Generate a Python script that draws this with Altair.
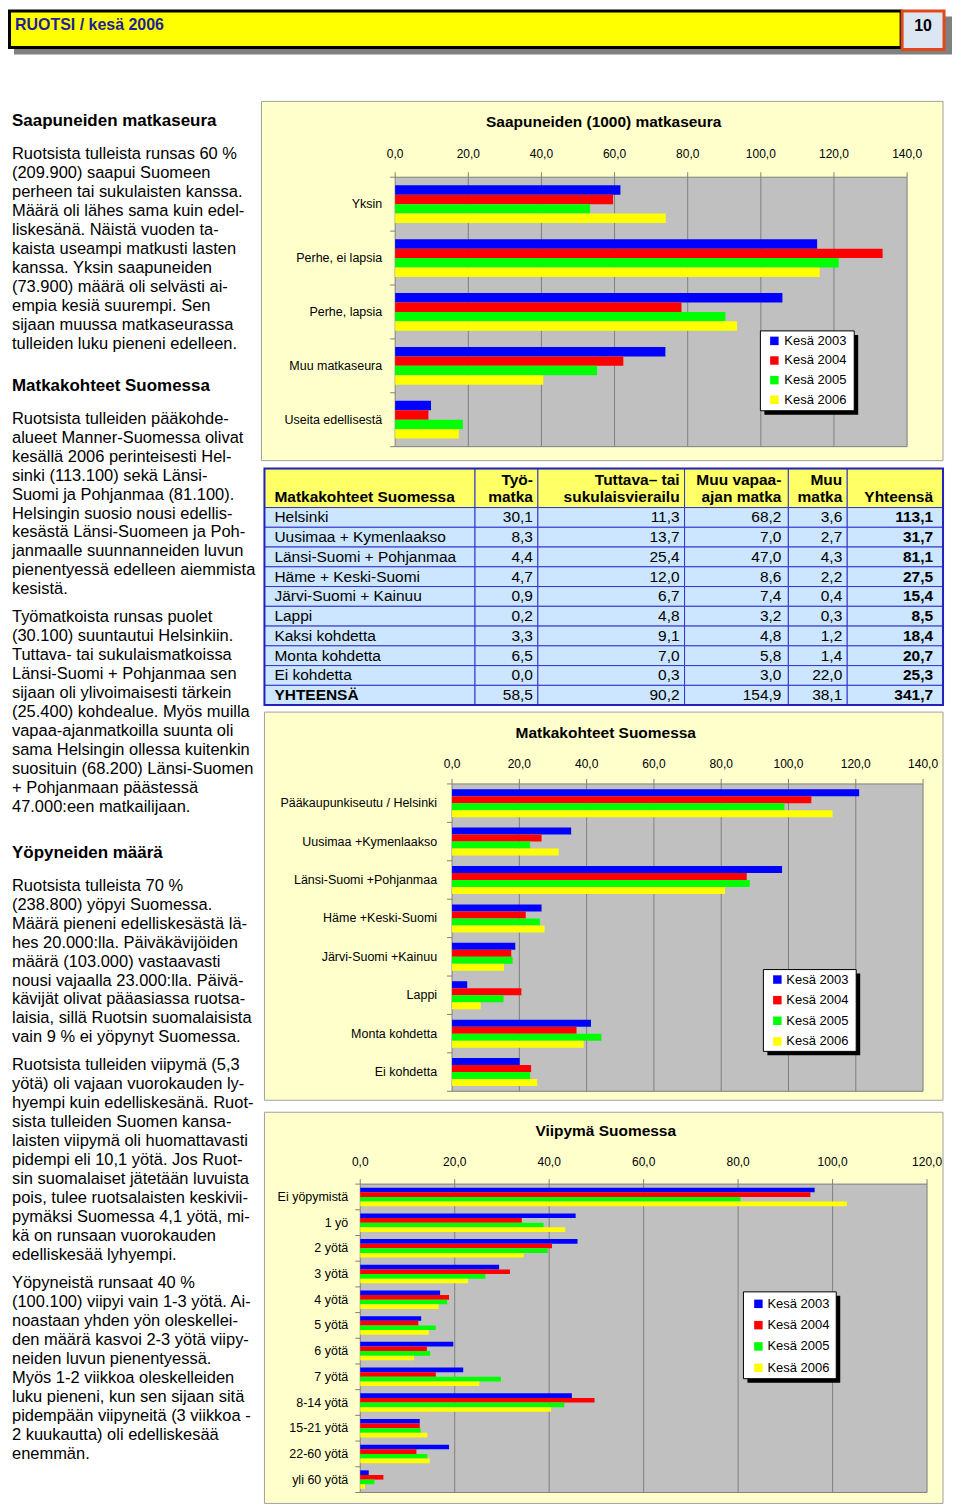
import altair as alt
import pandas as pd

FONT = "Liberation Sans"

# ---------------- data ----------------
years = ["Kesä 2003", "Kesä 2004", "Kesä 2005", "Kesä 2006"]
colors = ["#0000FF", "#FF0000", "#00FF00", "#FFFF00"]

c1_cats = ["Yksin", "Perhe, ei lapsia", "Perhe, lapsia", "Muu matkaseura", "Useita edellisestä"]
c1_2003 = [61.6, 115.4, 105.9, 73.9, 9.8]
c1_2004 = [59.6, 133.3, 78.3, 62.4, 9.1]
c1_2005 = [53.3, 121.3, 90.3, 55.2, 18.5]
c1_2006 = [74.0, 116.1, 93.5, 40.5, 17.4]

c2_cats = ["Pääkaupunkiseutu / Helsinki", "Uusimaa +Kymenlaakso", "Länsi-Suomi +Pohjanmaa",
           "Häme +Keski-Suomi", "Järvi-Suomi +Kainuu", "Lappi", "Monta kohdetta", "Ei kohdetta"]
c2_2003 = [121.0, 35.4, 98.1, 26.6, 18.8, 4.5, 41.3, 20.1]
c2_2004 = [106.8, 26.6, 87.6, 21.9, 17.6, 20.6, 37.0, 23.5]
c2_2005 = [98.8, 23.2, 88.5, 26.1, 18.0, 15.3, 44.4, 23.2]
c2_2006 = [113.1, 31.7, 81.1, 27.5, 15.4, 8.5, 39.1, 25.3]

c3_cats = ["Ei yöpymistä", "1 yö", "2 yötä", "3 yötä", "4 yötä", "5 yötä", "6 yötä", "7 yötä",
           "8-14 yötä", "15-21 yötä", "22-60 yötä", "yli 60 yötä"]
c3_2003 = [96.2, 45.6, 46.0, 29.4, 16.9, 12.9, 19.7, 21.8, 44.8, 12.6, 18.8, 1.8]
c3_2004 = [95.3, 34.2, 40.6, 31.7, 18.8, 12.3, 14.1, 16.0, 49.6, 12.6, 11.9, 4.9]
c3_2005 = [80.5, 38.8, 39.7, 26.5, 18.4, 16.0, 14.8, 29.8, 43.2, 12.8, 14.2, 3.0]
c3_2006 = [103.0, 43.4, 34.6, 22.8, 16.6, 14.5, 11.4, 25.2, 40.4, 14.2, 14.7, 1.0]

tbl_rows = ["Helsinki", "Uusimaa + Kymenlaakso", "Länsi-Suomi + Pohjanmaa", "Häme + Keski-Suomi",
            "Järvi-Suomi + Kainuu", "Lappi", "Kaksi kohdetta", "Monta kohdetta", "Ei kohdetta", "YHTEENSÄ"]
tbl_tyo = [30.1, 8.3, 4.4, 4.7, 0.9, 0.2, 3.3, 6.5, 0.0, 58.5]
tbl_tuttava = [11.3, 13.7, 25.4, 12.0, 6.7, 4.8, 9.1, 7.0, 0.3, 90.2]
tbl_vapaa = [68.2, 7.0, 47.0, 8.6, 7.4, 3.2, 4.8, 5.8, 3.0, 154.9]
tbl_muu = [3.6, 2.7, 4.3, 2.2, 0.4, 0.3, 1.2, 1.4, 22.0, 38.1]
tbl_yht = [113.1, 31.7, 81.1, 27.5, 15.4, 8.5, 18.4, 20.7, 25.3, 341.7]
tbl_head = [["", "Matkakohteet Suomessa"], ["Työ-", "matka"], ["Tuttava– tai", "sukulaisvierailu"],
            ["Muu vapaa-", "ajan matka"], ["Muu", "matka"], ["", "Yhteensä"]]

h1 = "Saapuneiden matkaseura"
p1 = ["Ruotsista tulleista runsas 60 %", "(209.900) saapui Suomeen", "perheen tai sukulaisten kanssa.",
      "Määrä oli lähes sama kuin edel-", "liskesänä. Näistä vuoden ta-", "kaista useampi matkusti lasten",
      "kanssa. Yksin saapuneiden", "(73.900) määrä oli selvästi ai-", "empia kesiä suurempi. Sen",
      "sijaan muussa matkaseurassa", "tulleiden luku pieneni edelleen."]
h2 = "Matkakohteet Suomessa"
p2 = ["Ruotsista tulleiden pääkohde-", "alueet Manner-Suomessa olivat", "kesällä 2006 perinteisesti Hel-",
      "sinki (113.100) sekä Länsi-", "Suomi ja Pohjanmaa (81.100).", "Helsingin suosio nousi edellis-",
      "kesästä Länsi-Suomeen ja Poh-", "janmaalle suunnanneiden luvun", "pienentyessä edelleen aiemmista",
      "kesistä."]
p3 = ["Työmatkoista runsas puolet", "(30.100) suuntautui Helsinkiin.", "Tuttava- tai sukulaismatkoissa",
      "Länsi-Suomi + Pohjanmaa sen", "sijaan oli ylivoimaisesti tärkein", "(25.400) kohdealue. Myös muilla",
      "vapaa-ajanmatkoilla suunta oli", "sama Helsingin ollessa kuitenkin", "suosituin (68.200) Länsi-Suomen",
      "+ Pohjanmaan päästessä", "47.000:een matkailijaan."]
h3 = "Yöpyneiden määrä"
p4 = ["Ruotsista tulleista 70 %", "(238.800) yöpyi Suomessa.", "Määrä pieneni edelliskesästä lä-",
      "hes 20.000:lla. Päiväkävijöiden", "määrä (103.000) vastaavasti", "nousi vajaalla 23.000:lla. Päivä-",
      "kävijät olivat pääasiassa ruotsa-", "laisia, sillä Ruotsin suomalaisista", "vain 9 % ei yöpynyt Suomessa."]
p5 = ["Ruotsista tulleiden viipymä (5,3", "yötä) oli vajaan vuorokauden ly-", "hyempi kuin edelliskesänä. Ruot-",
      "sista tulleiden Suomen kansa-", "laisten viipymä oli huomattavasti", "pidempi eli 10,1 yötä. Jos Ruot-",
      "sin suomalaiset jätetään luvuista", "pois, tulee ruotsalaisten keskivii-", "pymäksi Suomessa 4,1 yötä, mi-",
      "kä on runsaan vuorokauden", "edelliskesää lyhyempi."]
p6 = ["Yöpyneistä runsaat 40 %", "(100.100) viipyi vain 1-3 yötä. Ai-", "noastaan yhden yön oleskellei-",
      "den määrä kasvoi 2-3 yötä viipy-", "neiden luvun pienentyessä.", "Myös 1-2 viikkoa oleskelleiden",
      "luku pieneni, kun sen sijaan sitä", "pidempään viipyneitä (3 viikkoa -", "2 kuukautta) oli edelliskesää",
      "enemmän."]

header_title = "RUOTSI / kesä 2006"
page_no = "10"

# ---------------- helpers ----------------
ONE = pd.DataFrame({"k": [0]})


def box(x0, x1, y0, y1, fill, stroke=None, sw=1):
    kw = dict(fill=fill, strokeWidth=sw)
    if stroke is not None:
        kw["stroke"] = stroke
    else:
        kw["strokeWidth"] = 0
    return alt.Chart(ONE).mark_rect(**kw).encode(
        x=alt.value(x0), x2=alt.value(x1), y=alt.value(y0), y2=alt.value(y1))


def label(txt, x, y, size, bold=False, align="left", color="black"):
    return alt.Chart(ONE).mark_text(text=txt, font=FONT, fontSize=size,
                                    fontWeight="bold" if bold else "normal",
                                    align=align, baseline="middle", color=color).encode(
        x=alt.value(x), y=alt.value(y))


def fmt(v):
    return f"{v:.1f}".replace(".", ",")


def bar_panel(cats, series, cfg, key):
    W, H = cfg["W"], cfg["H"]
    xmax = cfg["xmax"]
    left, right = cfg["xr"]
    top, bot = cfg["py"]
    n = len(cats)
    pin, pout = cfg["pin"], cfg["pout"]
    step = (bot - top) / (n - pin + 2 * pout)
    bw = step * (1 - pin)
    xs = alt.Scale(domain=[0, xmax], range=[left, right], nice=False, zero=True)
    ys = alt.Scale(domain=cats, range=[top, bot], paddingInner=pin, paddingOuter=pout)
    os_ = alt.Scale(domain=years, range=[0, bw], paddingInner=0, paddingOuter=0)
    cs = alt.Scale(domain=years, range=colors)
    yr_f = "yr_" + key  # distinct series field per panel

    rows = [{"cat": c, yr_f: yr, "v": v} for yr, vals in zip(years, series) for c, v in zip(cats, vals)]
    bars_df = pd.DataFrame(rows)
    ticks = list(range(0, xmax + 1, 20))
    tick_df = pd.DataFrame({"t": ticks, "lab": [fmt(t) for t in ticks]})
    grid_df = tick_df[(tick_df.t > 0) & (tick_df.t < xmax)]
    bnd_df = pd.DataFrame({"b": list(range(n + 1))})
    cat_df = pd.DataFrame({"cat": cats})
    leg_df = pd.DataFrame({"year": years, "i": list(range(len(years)))})
    fx0, fx1, fy0, fy1 = cfg["frame"]
    lx0, lx1, ly0, ly1 = cfg["legbox"]
    le0, le1 = cfg["legy"]

    layers = [
        box(fx0, fx1, fy0, fy1, "#FFFFCC", "#A0A0A0", 1),
        label(cfg["title"], cfg["title_xy"][0], cfg["title_xy"][1], 15.5, bold=True, align="center"),
        alt.Chart(pd.DataFrame({"a": [0], "b": [xmax]})).mark_rect(
            fill="#C0C0C0", stroke="#808080", strokeWidth=1).encode(
            x=alt.X("a:Q", scale=xs, axis=None), x2="b:Q", y=alt.value(top), y2=alt.value(bot)),
        alt.Chart(grid_df).mark_rule(color="#808080", strokeWidth=1).encode(
            x=alt.X("t:Q", scale=xs, axis=None), y=alt.value(top), y2=alt.value(bot)),
        alt.Chart(tick_df).mark_rule(color="#808080", strokeWidth=1).encode(
            x=alt.X("t:Q", scale=xs, axis=None), y=alt.value(top - 5), y2=alt.value(top)),
        alt.Chart(bnd_df).mark_rule(color="#808080", strokeWidth=1).encode(
            y=alt.Y("b:Q", scale=alt.Scale(domain=[0, n], range=[top, bot], nice=False, zero=False), axis=None),
            x=alt.value(left - 5), x2=alt.value(left)),
        alt.Chart(bars_df).mark_bar().encode(
            x=alt.X("v:Q", scale=xs, axis=None),
            y=alt.Y("cat:N", scale=ys, axis=None),
            yOffset=alt.YOffset(yr_f + ":N", scale=os_),
            color=alt.Color(yr_f + ":N", scale=cs, legend=None)),
        alt.Chart(tick_df).mark_text(font=FONT, fontSize=12, align="center", baseline="middle").encode(
            x=alt.X("t:Q", scale=xs, axis=None), y=alt.value(cfg["tick_y"]), text="lab:N"),
        alt.Chart(cat_df).mark_text(font=FONT, fontSize=12.5, align="right", baseline="middle").encode(
            y=alt.Y("cat:N", scale=ys, axis=None), x=alt.value(cfg["label_x"]), text="cat:N"),
        box(lx0 + 4, lx1 + 4, ly0 + 4, ly1 + 4, "#000000"),
        box(lx0, lx1, ly0, ly1, "#FFFFFF", "#000000", 1),
        alt.Chart(leg_df).mark_square(size=72, opacity=1).encode(
            y=alt.Y("i:Q", scale=alt.Scale(domain=[0, 3], range=[le0, le1], nice=False, zero=False), axis=None),
            x=alt.value(cfg["leg_sq_x"]),
            color=alt.Color("year:N", scale=cs, legend=None)),
        alt.Chart(leg_df).mark_text(font=FONT, fontSize=13, align="left", baseline="middle").encode(
            y=alt.Y("i:Q", scale=alt.Scale(domain=[0, 3], range=[le0, le1], nice=False, zero=False), axis=None),
            x=alt.value(cfg["leg_tx_x"]), text="year:N"),
    ]
    return alt.layer(*layers).resolve_scale(
        x="independent", y="independent", yOffset="independent").properties(width=W, height=H)


# ---------------- header ----------------
header = alt.layer(
    box(6, 946, 7, 45, "#808080"),
    box(1.5, 895, 1.5, 38, "#FFFF00", "#000000", 3),
    box(896, 938, 1.5, 40, "#DCE6F2", "#E04A1A", 3),
    label(header_title, 7, 15, 16, bold=True, color="#1F1F99"),
    label(page_no, 917, 16, 16, bold=True, align="center"),
).properties(width=944, height=92)

# ---------------- left text column ----------------
LH = 19
blocks = [("h", [h1], 20), ("p", p1, 53), ("h", [h2], 285), ("p", p2, 318), ("p", p3, 517),
          ("h", [h3], 753), ("p", p4, 786), ("p", p5, 966), ("p", p6, 1184)]
trows = []
for kind, lines, y0 in blocks:
    for i, ln in enumerate(lines):
        trows.append({"txt": ln, "y": y0 + i * LH, "kind": kind})
text_df = pd.DataFrame(trows)
LEFT_H = 1407
ys_id = alt.Scale(domain=[0, LEFT_H], range=[0, LEFT_H], nice=False, zero=False)
left = alt.layer(
    alt.Chart(text_df).transform_filter(alt.datum.kind == "h").mark_text(
        font=FONT, fontSize=17, fontWeight="bold", align="left", baseline="middle").encode(
        x=alt.value(4), y=alt.Y("y:Q", scale=ys_id, axis=None), text="txt:N"),
    alt.Chart(text_df).transform_filter(alt.datum.kind == "p").mark_text(
        font=FONT, fontSize=16.5, align="left", baseline="middle").encode(
        x=alt.value(4), y=alt.Y("y:Q", scale=ys_id, axis=None), text="txt:N"),
).properties(width=254, height=LEFT_H)

# ---------------- chart 1 ----------------
c1 = bar_panel(c1_cats, [c1_2003, c1_2004, c1_2005, c1_2006], dict(
    W=690, H=362, xmax=140, xr=[134, 647], py=[76, 346], pin=0.3, pout=0.15,
    frame=(0, 683, 0, 360), title="Saapuneiden (1000) matkaseura", title_xy=(343, 21),
    tick_y=53, label_x=121, legbox=(500, 594, 230, 310), legy=(240, 299), leg_sq_x=514, leg_tx_x=524), "a")

# ---------------- table ----------------
TW, TH = 690, 246
col_edges = [3, 214, 277, 424, 528, 587, 683]
head_top, head_bot, tbl_bot = 6, 45, 243
idx = alt.Scale(domain=[0, TW], range=[0, TW], nice=False, zero=False)
idy = alt.Scale(domain=[0, TH], range=[0, TH], nice=False, zero=False)
rs = alt.Scale(domain=tbl_rows, range=[head_bot, tbl_bot], paddingInner=0, paddingOuter=0)
cols = [tbl_tyo, tbl_tuttava, tbl_vapaa, tbl_muu, tbl_yht]
pads = [5, 5, 7, 5, 10]
cell_rows, num_rows = [], []
for ri, r in enumerate(tbl_rows):
    for ci in range(6):
        cell_rows.append({"row": r, "x0": col_edges[ci], "x1": col_edges[ci + 1]})
    for ci, col in enumerate(cols):
        num_rows.append({"row": r, "xr": col_edges[ci + 2] - pads[ci], "lab": fmt(col[ri]),
                         "bold": ci == 4})
cell_df = pd.DataFrame(cell_rows)
num_df = pd.DataFrame(num_rows)
head_cells = pd.DataFrame({"x0": col_edges[:-1], "x1": col_edges[1:]})
hrows = []
for ci, (l1, l2) in enumerate(tbl_head):
    for ln, yy in ((l1, 17), (l2, 34)):
        if ln:
            hrows.append({"txt": ln, "y": yy, "x": 13 if ci == 0 else col_edges[ci + 1] - pads[ci - 1],
                          "al": "l" if ci == 0 else "r"})
head_df = pd.DataFrame(hrows)
first_df = pd.DataFrame({"row": tbl_rows, "bold": [r == "YHTEENSÄ" for r in tbl_rows]})
BL = "#3333CC"
table = alt.layer(
    alt.Chart(head_cells).mark_rect(fill="#FFFF66", stroke=BL, strokeWidth=1).encode(
        x=alt.X("x0:Q", scale=idx, axis=None), x2="x1:Q", y=alt.value(head_top), y2=alt.value(head_bot)),
    alt.Chart(cell_df).mark_rect(fill="#CCE6FF", stroke=BL, strokeWidth=1).encode(
        x=alt.X("x0:Q", scale=idx, axis=None), x2="x1:Q", y=alt.Y("row:N", scale=rs, axis=None)),
    box(col_edges[0], col_edges[-1], head_top, tbl_bot, "transparent", "#2222BB", 2),
    alt.Chart(head_df).transform_filter(alt.datum.al == "l").mark_text(
        font=FONT, fontSize=15.5, fontWeight="bold", align="left", baseline="middle").encode(
        x=alt.X("x:Q", scale=idx, axis=None), y=alt.Y("y:Q", scale=idy, axis=None), text="txt:N"),
    alt.Chart(head_df).transform_filter(alt.datum.al == "r").mark_text(
        font=FONT, fontSize=15.5, fontWeight="bold", align="right", baseline="middle").encode(
        x=alt.X("x:Q", scale=idx, axis=None), y=alt.Y("y:Q", scale=idy, axis=None), text="txt:N"),
    alt.Chart(first_df).transform_filter("!datum.bold").mark_text(
        font=FONT, fontSize=15.5, align="left", baseline="middle").encode(
        x=alt.value(13), y=alt.Y("row:N", scale=rs, axis=None), text="row:N"),
    alt.Chart(first_df).transform_filter("datum.bold").mark_text(
        font=FONT, fontSize=15.5, fontWeight="bold", align="left", baseline="middle").encode(
        x=alt.value(13), y=alt.Y("row:N", scale=rs, axis=None), text="row:N"),
    alt.Chart(num_df).transform_filter("!datum.bold").mark_text(
        font=FONT, fontSize=15.5, align="right", baseline="middle").encode(
        x=alt.X("xr:Q", scale=idx, axis=None), y=alt.Y("row:N", scale=rs, axis=None), text="lab:N"),
    alt.Chart(num_df).transform_filter("datum.bold").mark_text(
        font=FONT, fontSize=15.5, fontWeight="bold", align="right", baseline="middle").encode(
        x=alt.X("xr:Q", scale=idx, axis=None), y=alt.Y("row:N", scale=rs, axis=None), text="lab:N"),
).resolve_scale(x="independent", y="independent").properties(width=TW, height=TH)

# ---------------- chart 2 ----------------
c2 = bar_panel(c2_cats, [c2_2003, c2_2004, c2_2005, c2_2006], dict(
    W=690, H=400, xmax=140, xr=[191, 663], py=[76, 384], pin=0.27, pout=0.135,
    frame=(3, 683, 4, 393), title="Matkakohteet Suomessa", title_xy=(345, 25),
    tick_y=56, label_x=176, legbox=(503, 596, 262, 344), legy=(272, 334), leg_sq_x=517, leg_tx_x=526), "b")

# ---------------- chart 3 ----------------
c3 = bar_panel(c3_cats, [c3_2003, c3_2004, c3_2005, c3_2006], dict(
    W=690, H=399, xmax=120, xr=[99, 667], py=[77, 386], pin=0.28, pout=0.14,
    frame=(3, 683, 5, 397), title="Viipymä Suomessa", title_xy=(345, 24),
    tick_y=55, label_x=87, legbox=(483, 576, 185, 272), legy=(197, 261), leg_sq_x=498, leg_tx_x=507), "c")

right = alt.vconcat(c1, table, c2, c3, spacing=0, bounds="flush").resolve_scale(yOffset="independent")
body = alt.hconcat(left, right, spacing=0, bounds="flush").resolve_scale(yOffset="independent")
chart = alt.vconcat(header, body, spacing=0, bounds="flush").resolve_scale(yOffset="independent").properties(
    padding=0, background="white").configure_view(stroke=None)

chart.save("out.html", embed_options={"renderer": "svg", "actions": False})
